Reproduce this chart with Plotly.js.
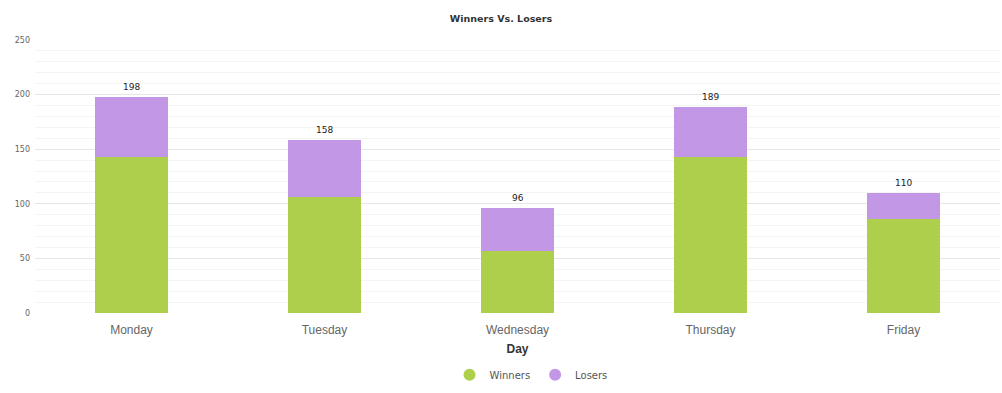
<!DOCTYPE html>
<html>
<head>
<meta charset="utf-8">
<script src="https://cdn.plot.ly/plotly-3.0.1.min.js"></script>
<style>html,body{margin:0;padding:0;background:#fff;}#chart{width:1002px;height:393px;}</style>
</head>
<body>
<div id="chart"></div>
<script>
var days = ["Monday", "Tuesday", "Wednesday", "Thursday", "Friday"];
var winners = [143, 106, 57, 143, 86];
var losers = [55, 52, 39, 46, 24];
var totals = [198, 158, 96, 189, 110];

var green = "rgb(174,207,75)";
var purple = "rgb(194,151,230)";

var traces = [
  {type: "bar", x: days, y: winners, name: "Winners", marker: {color: green}, width: 0.38, showlegend: false, hoverinfo: "y"},
  {type: "bar", x: days, y: losers, name: "Losers", marker: {color: purple}, width: 0.38, showlegend: false, hoverinfo: "y"},
  {type: "scatter", mode: "markers", x: [null], y: [null], name: "Winners", marker: {color: green, size: 12, symbol: "circle"}},
  {type: "scatter", mode: "markers", x: [null], y: [null], name: "Losers", marker: {color: purple, size: 12, symbol: "circle"}}
];

var annotations = days.map(function (d, i) {
  return {x: d, y: totals[i], text: String(totals[i]), showarrow: false, yanchor: "bottom", yshift: 3,
          font: {family: "DejaVu Sans, sans-serif", size: 9, color: "#222"}};
});

var layout = {
  width: 1002, height: 393,
  margin: {l: 35, r: 2, t: 40, b: 80},
  paper_bgcolor: "#fff", plot_bgcolor: "#fff",
  barmode: "stack",
  title: {text: "<b>Winners Vs. Losers</b>", x: 0.5, xanchor: "center", y: 0.952, yanchor: "middle", yref: "container",
          font: {family: "DejaVu Sans, sans-serif", size: 9.5, color: "#333"}},
  xaxis: {
    type: "category", showgrid: false, showline: false, ticks: "", ticklabelstandoff: 8,
    tickfont: {family: "Liberation Sans, Arial, sans-serif", size: 12, color: "#666"},
    title: {text: "<b>Day</b>", standoff: 8, font: {family: "Liberation Sans, Arial, sans-serif", size: 12, color: "#333"}}
  },
  yaxis: {
    range: [0, 250], dtick: 50, showline: false, zeroline: false,
    gridcolor: "#e6e6e6", gridwidth: 1,
    minor: {dtick: 10, showgrid: true, gridcolor: "#f4f4f4", gridwidth: 1},
    tickfont: {family: "DejaVu Sans, sans-serif", size: 8, color: "#666"},
    ticks: "", ticklabelstandoff: 4
  },
  legend: {orientation: "h", traceorder: "normal", x: 0.514, xanchor: "center", y: -0.226, yanchor: "middle",
           font: {family: "DejaVu Sans, sans-serif", size: 10, color: "#555"}, itemwidth: 30},
  annotations: annotations
};

Plotly.newPlot("chart", traces, layout, {displayModeBar: false, staticPlot: true});
</script>
</body>
</html>
